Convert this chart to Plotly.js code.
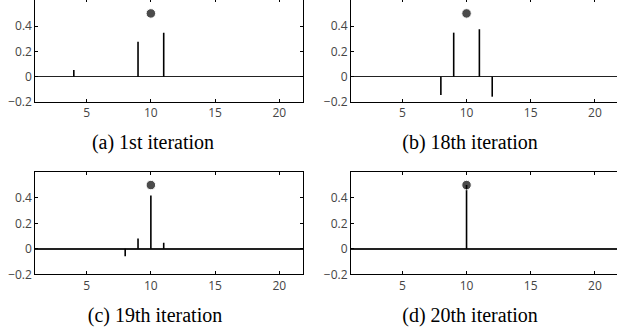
<!DOCTYPE html>
<html><head><meta charset="utf-8">
<script src="https://cdn.plot.ly/plotly-3.0.1.min.js"></script>
<style>html,body{margin:0;padding:0;overflow:hidden;background:#fff;width:617px;height:334px;position:relative;}
.pn{position:absolute;}
.cap{position:absolute;width:220px;text-align:center;font-family:'Liberation Serif','Times New Roman',serif;font-size:20px;line-height:20px;color:#000;white-space:nowrap;}</style>
</head><body>
<div id="pa" class="pn"></div><div id="pb" class="pn"></div>
<div id="pc" class="pn"></div><div id="pd" class="pn"></div>
<script>
// Data
const panelCaptions = ["(a) 1st iteration", "(b) 18th iteration", "(c) 19th iteration", "(d) 20th iteration"];
const stemX_a = [4, 9, 11];
const stemY_a = [0.053, 0.277, 0.348];
const stemX_b = [8, 9, 11, 12];
const stemY_b = [-0.145, 0.348, 0.375, -0.158];
const stemX_c = [8, 9, 10, 11];
const stemY_c = [-0.058, 0.081, 0.418, 0.047];
const stemX_d = [10];
const stemY_d = [0.5];
const targetX = [10];
const targetY = [0.5];
const xTicks = [5, 10, 15, 20];
const yTicks = [-0.2, 0, 0.2, 0.4];
const yTickText = ["\u22120.2", "0", "0.2", "0.4"];

// page-pixel layout of each panel: div box, plot box, caption centre, axis ranges
const panels = [
  {id: 'pa', xs: stemX_a, ys: stemY_a, div: [0, -2, 310, 165], plot: [35.3, -1, 303.3, 102], cap: [153, 141.5], xr: [1, 21.87], yr: [-0.2, 0.614]},
  {id: 'pb', xs: stemX_b, ys: stemY_b, div: [310, -2, 622, 165], plot: [351, -1, 620.6, 102], cap: [470, 141.5], xr: [1, 22], yr: [-0.2, 0.614]},
  {id: 'pc', xs: stemX_c, ys: stemY_c, div: [0, 165, 310, 334], plot: [35.3, 172.3, 303.3, 274.3], cap: [155, 315], xr: [1, 21.87], yr: [-0.2, 0.6]},
  {id: 'pd', xs: stemX_d, ys: stemY_d, div: [310, 165, 622, 334], plot: [351, 172.3, 620.6, 274.3], cap: [470, 315], xr: [1, 22], yr: [-0.2, 0.6]}
];

panels.forEach((p, i) => {
  const [dl, dt, dr, db] = p.div, [pl, pt, pr, pb] = p.plot;
  const w = dr - dl, h = db - dt;
  const el = document.getElementById(p.id);
  el.style.left = dl + 'px'; el.style.top = dt + 'px';
  el.style.width = w + 'px'; el.style.height = h + 'px';

  const cap = document.createElement('div');
  cap.className = 'cap';
  cap.textContent = panelCaptions[i];
  cap.style.left = (p.cap[0] - 110) + 'px';
  cap.style.top = (p.cap[1] - 10) + 'px';
  document.body.appendChild(cap);

  // one trace per panel: stems (lines, no markers) + the target dot (marker only)
  const X = [], Y = [], S = [];
  p.xs.forEach((x, k) => { X.push(x, x, null); Y.push(0, p.ys[k], null); S.push(0, 0, 0); });
  targetX.forEach((x, k) => { X.push(x); Y.push(targetY[k]); S.push(9.5); });
  const traces = [
    {x: X, y: Y, mode: 'lines+markers', line: {color: '#000', width: 1.6},
     marker: {color: '#000', size: S}, showlegend: false, hoverinfo: 'skip'}
  ];
  const layout = {
    width: w, height: h, margin: {l: 0, r: 0, t: 0, b: 0},
    xaxis: {domain: [(pl - dl) / w, (pr - dl) / w], range: p.xr, anchor: 'y', tickvals: xTicks,
      ticks: 'inside', ticklen: 3, tickcolor: '#000', showline: true, linecolor: '#000', linewidth: 1,
      mirror: 'ticks', showgrid: false, zeroline: false},
    yaxis: {domain: [1 - (pb - dt) / h, 1 - (pt - dt) / h], range: p.yr, anchor: 'x',
      tickvals: yTicks, ticktext: yTickText, ticks: 'inside', ticklen: 3, tickcolor: '#000',
      showline: true, linecolor: '#000', linewidth: 1, mirror: 'ticks', showgrid: false,
      zeroline: true, zerolinecolor: '#222', zerolinewidth: 1.6}
  };
  Plotly.newPlot(p.id, traces, layout, {staticPlot: true});
});
</script></body></html>
